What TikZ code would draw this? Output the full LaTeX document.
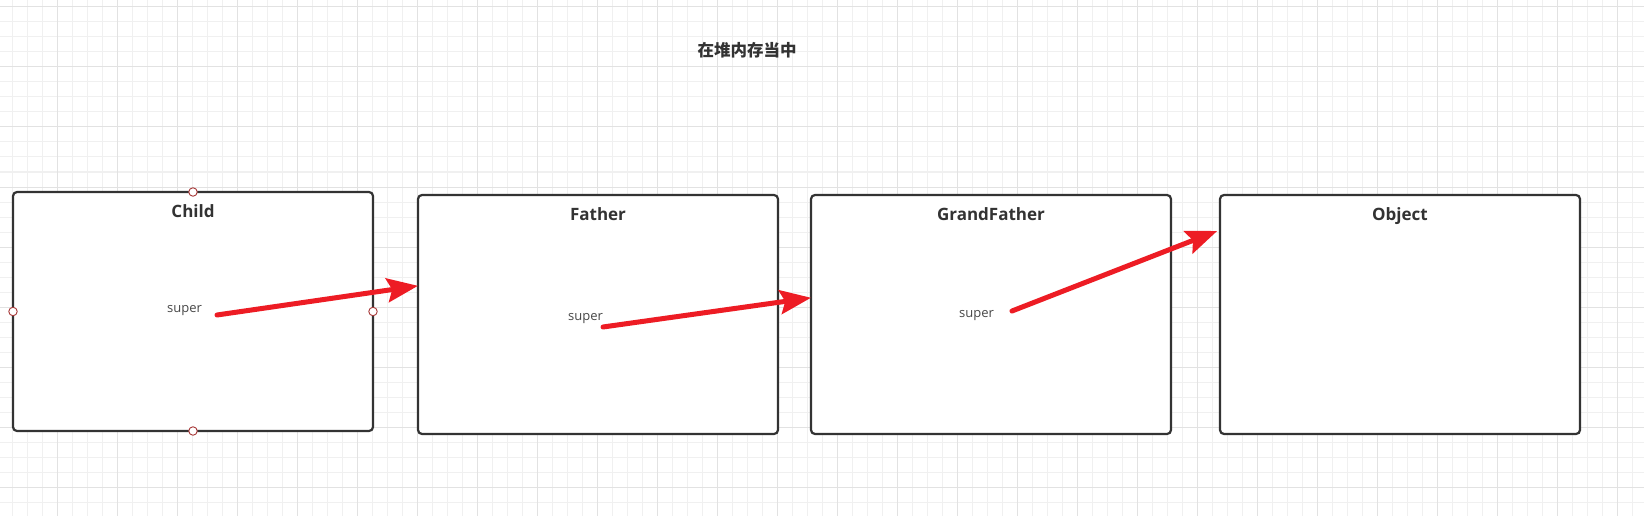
\documentclass[tikz,border=0pt]{standalone}
\usepackage{fontspec}
\setmainfont{Open Sans}
\newfontfamily\cjk{Noto Sans CJK SC}
\usetikzlibrary{arrows.meta, positioning, calc}
\definecolor{BoxGray}{HTML}{333333}
\definecolor{PtrRed}{HTML}{ED1C24}
\definecolor{HandleRed}{HTML}{A83A3A}
\definecolor{GridMinor}{HTML}{F0F0F0}
\definecolor{GridMajor}{HTML}{E2E2E2}

\begin{document}
\begin{tikzpicture}[
    x=1pt, y=-1pt,
    memblock/.style={rectangle, draw=BoxGray, fill=white, line width=2.2pt, rounded corners=4pt,
                minimum width=360pt, minimum height=239pt, inner sep=0pt, outer sep=0pt},
    blocktitle/.style={inner sep=0pt, text=BoxGray, font=\fontsize{17}{20}\selectfont\bfseries},
    field/.style={inner sep=0pt, text=BoxGray!90, font=\fontsize{13}{15}\selectfont},
    handle/.style={circle, draw=HandleRed, fill=white, line width=0.9pt, minimum size=8.5pt, inner sep=0pt},
    ptr/.style={-{Stealth[length=31pt, width=24pt, inset=5pt]}, draw=PtrRed, line width=5pt, line cap=round},
    gridminor/.style={draw=GridMinor, line width=1pt},
    gridmajor/.style={draw=GridMajor, line width=1pt}
]
\useasboundingbox (0,0) rectangle (1644,516);

% Grid
\begin{scope}
\clip (0,0) rectangle (1644,516);
\foreach \x in {12.5,27.5,...,1644} \draw[gridminor] (\x,0) -- (\x,516);
\foreach \y in {7,22,...,516} \draw[gridminor] (0,\y) -- (1644,\y);
\foreach \x in {57.5,117.5,...,1644} \draw[gridmajor] (\x,0) -- (\x,516);
\foreach \y in {7,67,...,516} \draw[gridmajor] (0,\y) -- (1644,\y);
\end{scope}

% Heading
\node[text=BoxGray, inner sep=0pt, font=\fontsize{16.5}{19}\selectfont] (heading) at (747,50) {\cjk\bfseries 在堆内存当中};

% Blocks
\node[memblock] (child) at (193,311.5) {};
\node[memblock, right=45pt of child, yshift=-3pt] (father) {};
\node[memblock, right=33pt of father] (grandfather) {};
\node[memblock, right=49pt of grandfather] (object) {};

% Titles
\node[blocktitle, below=12pt of child.north] (childtitle) {Child};
\node[blocktitle, below=12pt of father.north] (fathertitle) {Father};
\node[blocktitle, below=12pt of grandfather.north] (gftitle) {GrandFather};
\node[blocktitle, below=12pt of object.north] (objecttitle) {Object};

% Fields
\node[field] (childsuper) at (184.5,310.5) {super};
\node[field] (fathersuper) at (585.5,319) {super};
\node[field] (gfsuper) at (976.5,316) {super};

% Selection handles
\node[handle] (childtop) at (child.north) {};
\node[handle] (childbottom) at (child.south) {};
\node[handle] (childleft) at (child.west) {};
\node[handle] (childright) at (child.east) {};

% Pointers
\coordinate (childptr) at (217,315);
\coordinate (fatherptr) at (603,327);
\coordinate (gfptr) at (1012,311);

\draw[ptr] (childptr) -- ($(father.north west)!0.38!(father.south west)$);
\draw[ptr] (fatherptr) -- ($(grandfather.north west)!0.43!(grandfather.south west)$);
\draw[ptr, shorten >=3pt] (gfptr) -- ($(object.north west)!0.146!(object.south west)$);

\end{tikzpicture}
\end{document}
